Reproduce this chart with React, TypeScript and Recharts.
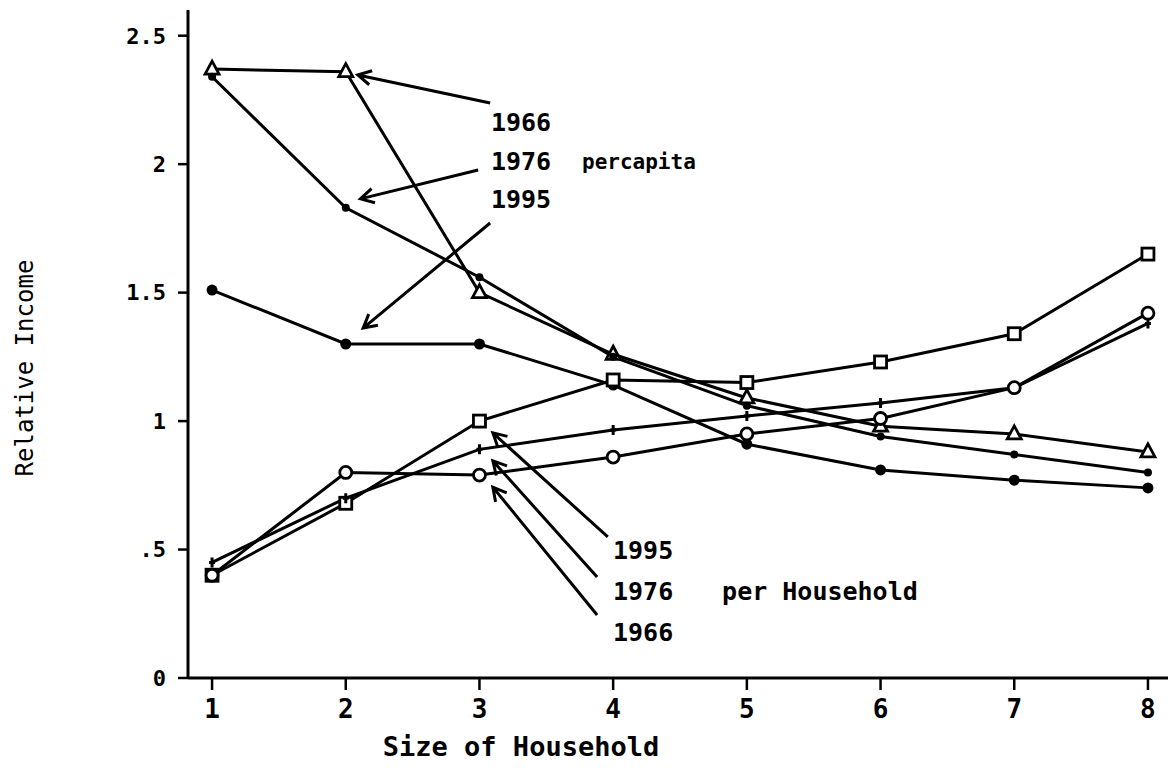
import { LineChart, Line, XAxis, YAxis, ReferenceLine, ReferenceDot } from 'recharts';

const sizes = [1, 2, 3, 4, 5, 6, 7, 8];
const yTicks = [0, 0.5, 1, 1.5, 2, 2.5];

// per capita
const capita1966 = [2.37, 2.36, 1.5, 1.26, 1.09, 0.98, 0.95, 0.88];
const capita1976 = [2.34, 1.83, 1.56, 1.25, 1.06, 0.94, 0.87, 0.8];
const capita1995 = [1.51, 1.3, 1.3, 1.14, 0.91, 0.81, 0.77, 0.74];
// per household
const household1995 = [0.4, 0.68, 1.0, 1.16, 1.15, 1.23, 1.34, 1.65];
const household1976 = [0.45, 0.7, 0.89, 0.965, 1.02, 1.07, 1.13, 1.38];
const household1966 = [0.4, 0.8, 0.79, 0.86, 0.95, 1.01, 1.13, 1.42];

// annotation arrows (tail -> head) in data units
const arrows = [
  { x1: 3.08, y1: 2.238, x2: 2.09, y2: 2.347 },
  { x1: 2.99, y1: 1.977, x2: 2.11, y2: 1.865 },
  { x1: 3.08, y1: 1.771, x2: 2.13, y2: 1.362 },
  { x1: 3.96, y1: 0.549, x2: 3.1, y2: 0.954 },
  { x1: 3.88, y1: 0.393, x2: 3.1, y2: 0.845 },
  { x1: 3.88, y1: 0.245, x2: 3.1, y2: 0.743 },
];

const notes = [
  { x: 3.086, y: 2.164, text: '1966', size: 25 },
  { x: 3.086, y: 2.009, text: '1976', size: 25 },
  { x: 3.086, y: 1.861, text: '1995', size: 25 },
  { x: 3.767, y: 2.009, text: 'percapita', size: 21 },
  { x: 3.999, y: 0.498, text: '1995', size: 25 },
  { x: 3.999, y: 0.335, text: '1976', size: 25 },
  { x: 3.999, y: 0.179, text: '1966', size: 25 },
  { x: 4.815, y: 0.335, text: 'per Household', size: 25 },
];

const data = sizes.map((s, i) => ({
  size: s,
  c66: capita1966[i],
  c76: capita1976[i],
  c95: capita1995[i],
  h95: household1995[i],
  h76: household1976[i],
  h66: household1966[i],
}));

const FONT = '"DejaVu Sans Mono", monospace';
const INK = '#000';
const W = 3;

const fmtY = (v: number) => (v === 0.5 ? '.5' : String(v));

const triangle = (p: any) => (
  <path
    key={`t-${p.index}`}
    d={`M${p.cx},${p.cy - 8} L${p.cx + 7},${p.cy + 5} L${p.cx - 7},${p.cy + 5} Z`}
    fill="#fff"
    stroke={INK}
    strokeWidth={2.8}
  />
);
const smallDot = (p: any) => <circle key={`d-${p.index}`} cx={p.cx} cy={p.cy} r={4} fill={INK} />;
const bigDot = (p: any) => <circle key={`b-${p.index}`} cx={p.cx} cy={p.cy} r={5.5} fill={INK} />;
const square = (p: any) => (
  <rect key={`s-${p.index}`} x={p.cx - 6} y={p.cy - 6} width={12} height={12} fill="#fff" stroke={INK} strokeWidth={2.8} />
);
const ring = (p: any) => (
  <circle key={`o-${p.index}`} cx={p.cx} cy={p.cy} r={6} fill="#fff" stroke={INK} strokeWidth={2.8} />
);
const plus = (p: any) => (
  <path
    key={`p-${p.index}`}
    d={`M${p.cx},${p.cy - 5} L${p.cx},${p.cy + 5} M${p.cx - 3},${p.cy} L${p.cx + 3},${p.cy}`}
    stroke={INK}
    strokeWidth={3}
  />
);

const arrowShape = (p: any) => {
  const { x1, y1, x2, y2 } = p;
  const a = Math.atan2(y1 - y2, x1 - x2);
  const len = 15;
  const spread = 0.5;
  const ax = x2 + len * Math.cos(a + spread);
  const ay = y2 + len * Math.sin(a + spread);
  const bx = x2 + len * Math.cos(a - spread);
  const by = y2 + len * Math.sin(a - spread);
  return (
    <path
      d={`M${x1},${y1} L${x2},${y2} M${ax},${ay} L${x2},${y2} L${bx},${by}`}
      fill="none"
      stroke={INK}
      strokeWidth={3}
    />
  );
};

const noteShape = (text: string, size: number) => (p: any) => (
  <text x={p.cx} y={p.cy} fontFamily={FONT} fontWeight="bold" fontSize={size} fill={INK} dominantBaseline="central">
    {text}
  </text>
);

export default function App() {
  return (
    <div style={{ position: 'absolute', left: 0, top: 0, background: '#fff' }}>
      <LineChart width={1168} height={770} data={data} margin={{ top: 10, right: 0, bottom: 0, left: 0 }}>
        <XAxis
          type="number"
          dataKey="size"
          domain={[0.82, 8.15]}
          ticks={sizes}
          allowDataOverflow
          height={92}
          tickSize={12}
          tickMargin={10}
          axisLine={{ stroke: INK, strokeWidth: 3 }}
          tickLine={{ stroke: INK, strokeWidth: 2.5 }}
          tick={{ fill: INK, fontSize: 26, fontFamily: FONT, fontWeight: 'bold' }}
          label={{
            content: (props: any) => {
              const vb = props.viewBox;
              return (
                <text x={vb.x + 333} y={vb.y + 68} textAnchor="middle" dominantBaseline="central" fontFamily={FONT} fontWeight="bold" fontSize={27} fill={INK}>
                  Size of Household
                </text>
              );
            },
          }}
        />
        <YAxis
          type="number"
          domain={[0, 2.6]}
          ticks={yTicks}
          allowDataOverflow
          width={188}
          tickSize={10}
          tickMargin={12}
          tickFormatter={fmtY}
          axisLine={{ stroke: INK, strokeWidth: 3 }}
          tickLine={{ stroke: INK, strokeWidth: 2.5 }}
          tick={{ fill: INK, fontSize: 22, fontFamily: FONT, fontWeight: 'bold' }}
          label={{
            content: (props: any) => {
              const vb = props.viewBox;
              const cx = 25;
              const cy = vb.y + vb.height / 2 + 24;
              return (
                <text x={cx} y={cy} transform={`rotate(-90 ${cx} ${cy})`} textAnchor="middle" dominantBaseline="central" fontFamily={FONT} fontSize={24} fill={INK}>
                  Relative Income
                </text>
              );
            },
          }}
        />
        <Line dataKey="c66" stroke={INK} strokeWidth={W} dot={triangle} isAnimationActive={false} />
        <Line dataKey="c76" stroke={INK} strokeWidth={W} dot={smallDot} isAnimationActive={false} />
        <Line dataKey="c95" stroke={INK} strokeWidth={W} dot={bigDot} isAnimationActive={false} />
        <Line dataKey="h95" stroke={INK} strokeWidth={W} dot={square} isAnimationActive={false} />
        <Line dataKey="h76" stroke={INK} strokeWidth={W} dot={plus} isAnimationActive={false} />
        <Line dataKey="h66" stroke={INK} strokeWidth={W} dot={ring} isAnimationActive={false} />
        {arrows.map((a, i) => (
          <ReferenceLine
            key={`a-${i}`}
            segment={[{ x: a.x1, y: a.y1 }, { x: a.x2, y: a.y2 }]}
            shape={arrowShape}
            ifOverflow="visible"
          />
        ))}
        {notes.map((n, i) => (
          <ReferenceDot key={`n-${i}`} x={n.x} y={n.y} r={0} shape={noteShape(n.text, n.size)} ifOverflow="visible" />
        ))}
      </LineChart>
    </div>
  );
}
